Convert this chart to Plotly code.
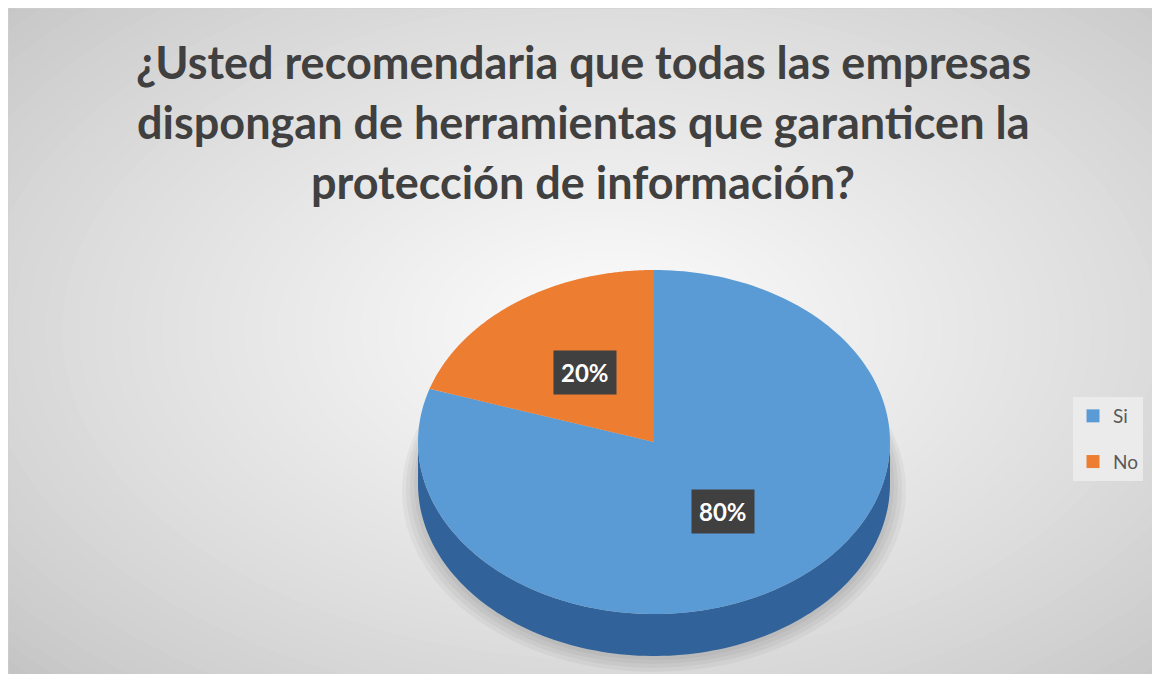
import numpy as np
import plotly.graph_objects as go

# ---- data ----
categories = ["Si", "No"]
values = [80, 20]
colors = ["#5b9bd5", "#ed7d31"]
side_color = "#31639a"
title_lines = [
    "¿Usted recomendaria que todas las empresas",
    "dispongan de herramientas que garanticen la",
    "protección de información?",
]

# ---- geometry (axis units = page pixels; page body has 8px offset) ----
W, H = 1160, 674
OFF = 8
cx, cy, a, b, depth = 654, 442, 236, 172, 42

def pt(theta_deg, r=1.0, dy=0.0):
    t = np.radians(theta_deg)
    return cx + a * r * np.sin(t), cy - b * r * np.cos(t) + dy

fig = go.Figure()

# background radial gradient (decorative)
shapes = []
N = 50
c0, c1 = np.array([196, 196, 196]), np.array([253, 253, 253])
for i in range(N):
    f = 1 - i / N
    col = (c0 + (c1 - c0) * (1 - f) ** 0.8).astype(int)
    rx, ry = 830 * f, 500 * f
    gx, gy = 610, 330
    shapes.append(dict(type="circle", xref="x", yref="y", x0=gx - rx, x1=gx + rx,
                       y0=gy - ry, y1=gy + ry, fillcolor=f"rgb({col[0]},{col[1]},{col[2]})",
                       line=dict(width=0), layer="below"))

# soft shadow under the pie
for k in range(4):
    g = 16 - 4 * k
    shapes.append(dict(type="circle", xref="x", yref="y", x0=cx - a - g, x1=cx + a + g,
                       y0=cy - b + 40, y1=cy + b + depth + g, fillcolor="rgba(0,0,0,0.04)",
                       line=dict(width=0), layer="below"))

# side wall (front visible part, all belongs to the "Si" slice)
th = np.linspace(90, 270, 120)
tx, ty = pt(th)
bx, by = pt(th[::-1], dy=depth)
fig.add_trace(go.Scatter(x=np.concatenate([tx, bx]), y=np.concatenate([ty, by]),
                         fill="toself", fillcolor=side_color, mode="none",
                         showlegend=False, hoverinfo="skip"))

# top face slices, clockwise from 12 o'clock
total = sum(values)
start = 0.0
label_pos = []
for cat, v, col in zip(categories, values, colors):
    span = 360 * v / total
    th = np.linspace(start, start + span, 200)
    xs, ys = pt(th)
    xs = np.concatenate([[cx], xs, [cx]])
    ys = np.concatenate([[cy], ys, [cy]])
    fig.add_trace(go.Scatter(x=xs, y=ys, fill="toself", fillcolor=col, mode="none",
                             name=cat, legendgroup=cat, showlegend=False, hoverinfo="name"))
    # legend entry with a square swatch
    fig.add_trace(go.Scatter(x=[None], y=[None], mode="markers", name=cat, legendgroup=cat,
                             marker=dict(symbol="square", size=13, color=col)))
    mid = start + span / 2
    label_pos.append((pt(mid, r=0.5), f"{round(100 * v / total)}%"))
    start += span

annotations = []
for (lx, ly), txt in label_pos:
    annotations.append(dict(x=lx, y=ly, xref="x", yref="y", text=f"<b>{txt}</b>", showarrow=False,
                            font=dict(family="Lato", size=24, color="white"),
                            bgcolor="#404040", borderpad=7))

for i, line in enumerate(title_lines):
    annotations.append(dict(x=583, y=62 + 60 * i, xref="x", yref="y", text=f"<b>{line}</b>",
                            showarrow=False, font=dict(family="Lato", size=45, color="#404040")))

# frame
shapes.append(dict(type="rect", xref="x", yref="y", x0=OFF, x1=W + 20, y0=OFF, y1=H + 20,
                   line=dict(color="#d0d0d0", width=1), layer="above"))

fig.update_layout(
    width=W, height=H,
    margin=dict(l=0, r=0, t=0, b=0),
    paper_bgcolor="white", plot_bgcolor="#e0e0e0",
    xaxis=dict(range=[OFF, OFF + W], visible=False, fixedrange=True),
    yaxis=dict(range=[OFF + H, OFF], visible=False, fixedrange=True),
    shapes=shapes, annotations=annotations,
    showlegend=True,
    legend=dict(x=(1073 - OFF) / W, y=1 - (397 - OFF) / H, xanchor="left", yanchor="top",
                bgcolor="rgba(236,236,236,0.9)", font=dict(family="Lato", size=19, color="#595959"),
                tracegroupgap=18, itemwidth=30),
)

fig.write_html("out.html")
